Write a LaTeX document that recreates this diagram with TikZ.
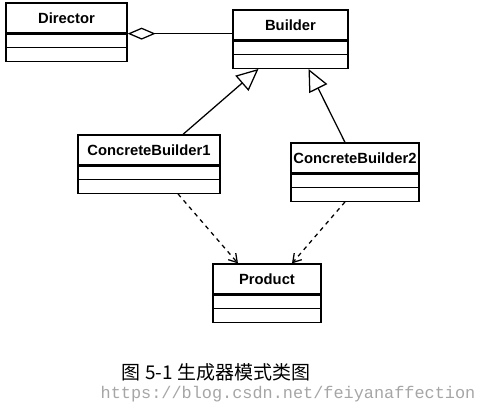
\documentclass[tikz,border=0pt]{standalone}
\usepackage{fontspec}
\setsansfont{Liberation Sans}
\setmonofont{Liberation Mono}
\newfontfamily\cjk{Noto Sans CJK SC}
\usetikzlibrary{positioning,arrows.meta}
\begin{document}
\begin{tikzpicture}[x=0.025cm,y=-0.025cm,line width=0.9pt,
  head/.style={draw, rectangle, inner xsep=1pt, minimum height=0.75cm, font=\sffamily\bfseries\fontsize{10.5}{12}\selectfont},
  body/.style={draw, rectangle, minimum height=0.675cm, below=0pt of #1,
    path picture={\draw (path picture bounding box.west) -- (path picture bounding box.east);}},
  inherit/.style={-{Triangle[open,length=5.5mm,width=5mm]}},
  depend/.style={dashed,-{Straight Barb[length=2mm,width=2.5mm]}}]
\useasboundingbox (0,0) rectangle (481,410);
% classes
\node[head, minimum width=3.025cm] (dir) at (66.5,18) {Director};
\node[body=dir, minimum width=3.025cm] (dirb) {};
\node[head, minimum width=2.875cm] (bld) at (290.5,25) {Builder};
\node[body=bld, minimum width=2.875cm] (bldb) {};
\node[head, minimum width=3.55cm] (cb1) at (149,150) {ConcreteBuilder1};
\node[body=cb1, minimum width=3.55cm] (cb1b) {};
\node[head, minimum width=3.2cm] (cb2) at (355,158) {ConcreteBuilder2};
\node[body=cb2, minimum width=3.2cm] (cb2b) {};
\node[head, minimum width=2.7cm] (prod) at (267,279) {Product};
\node[body=prod, minimum width=2.7cm] (prodb) {};
% relations
\draw[{Diamond[open,length=7mm,width=3mm]}-] (dir.south east) -- (dir.south east -| bld.west);
\draw[inherit] ([xshift=0.85cm]cb1.north) -- ([xshift=-0.8cm]bldb.south);
\draw[inherit] ([xshift=-0.25cm]cb2.north) -- ([xshift=0.45cm]bldb.south);
\draw[depend] ([xshift=0.725cm]cb1b.south) -- ([xshift=-0.725cm]prod.north);
\draw[depend] ([xshift=-0.25cm]cb2b.south) -- ([xshift=0.625cm]prod.north);
% caption
\node (cap) at (216,372) {\cjk\fontsize{13.5}{15}\selectfont 图 5-1 生成器模式类图};
\node[text=black!35] (wm) at (288,394) {\ttfamily\fontsize{12}{14}\selectfont https://blog.csdn.net/feiyanaffection};
\end{tikzpicture}
\end{document}
